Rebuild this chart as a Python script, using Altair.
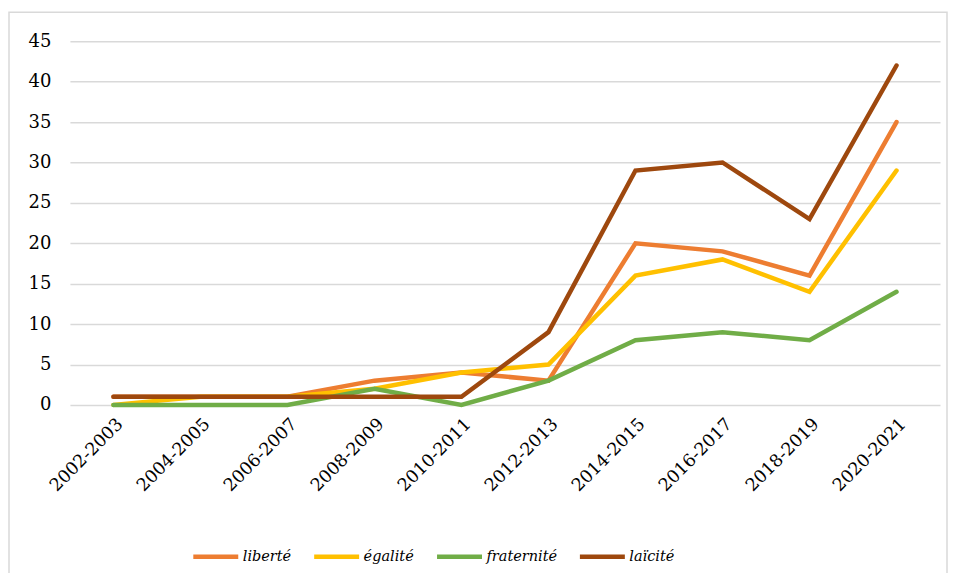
import altair as alt
import pandas as pd

periods = ["2002-2003", "2004-2005", "2006-2007", "2008-2009", "2010-2011",
           "2012-2013", "2014-2015", "2016-2017", "2018-2019", "2020-2021"]
series_names = ["liberté", "égalité", "fraternité", "laïcité"]
liberte = [1, 1, 1, 3, 4, 3, 20, 19, 16, 35]
egalite = [0, 1, 1, 2, 4, 5, 16, 18, 14, 29]
fraternite = [0, 0, 0, 2, 0, 3, 8, 9, 8, 14]
laicite = [1, 1, 1, 1, 1, 9, 29, 30, 23, 42]
colors = ["#ED7D31", "#FFC000", "#70AD47", "#9E480E"]
y_ticks = [0, 5, 10, 15, 20, 25, 30, 35, 40, 45]

values = [liberte, egalite, fraternite, laicite]
rows = []
for name, vals in zip(series_names, values):
    for p, v in zip(periods, vals):
        rows.append({"period": p, "series": name, "value": v})
df = pd.DataFrame(rows)

FONT = "DejaVu Serif"

x_enc = alt.X("period:N", sort=periods, title=None,
              scale=alt.Scale(paddingInner=0, paddingOuter=0.5),
              axis=alt.Axis(labelAngle=-45, labelFontSize=17.5, labelFont=FONT,
                            labelColor="#000000", domain=False, ticks=False,
                            grid=False, labelPadding=10))
y_enc = alt.Y("value:Q", title=None,
              scale=alt.Scale(domain=[0, 45], nice=False),
              axis=alt.Axis(values=y_ticks, labelFontSize=18, labelFont=FONT,
                            labelColor="#000000", domain=False, ticks=False,
                            gridColor="#d9d9d9", gridWidth=1.5, labelPadding=19))
color_enc = alt.Color("series:N",
                      scale=alt.Scale(domain=series_names, range=colors),
                      legend=alt.Legend(title=None, orient="none", direction="horizontal",
                                        legendX=121, legendY=491,
                                        symbolType="stroke", symbolSize=2025,
                                        symbolStrokeWidth=4.5,
                                        labelFont=FONT, labelFontSize=14.5,
                                        labelFontStyle="italic", labelColor="#000000",
                                        columnPadding=13, labelOffset=2))

layers = []
for name in series_names:
    layers.append(
        alt.Chart(df[df["series"] == name]).mark_line(strokeWidth=4.5, strokeCap="round",
                                                      strokeJoin="miter")
        .encode(x=x_enc, y=y_enc, color=color_enc)
    )

border = alt.Chart(pd.DataFrame({"a": [0]})).mark_rect(
    fill="transparent", stroke="#d9d9d9", strokeWidth=1.5
).encode(x=alt.value(-61), x2=alt.value(878), y=alt.value(-29), y2=alt.value(534))

chart = alt.layer(border, *layers).properties(
    width=871, height=364,
    autosize=alt.AutoSizeParams(type="none"),
    padding={"left": 62, "top": 33, "right": 10, "bottom": 168},
    background="white",
).configure_view(stroke=None)

chart.save("out.html", embed_options={"renderer": "svg", "actions": False})
